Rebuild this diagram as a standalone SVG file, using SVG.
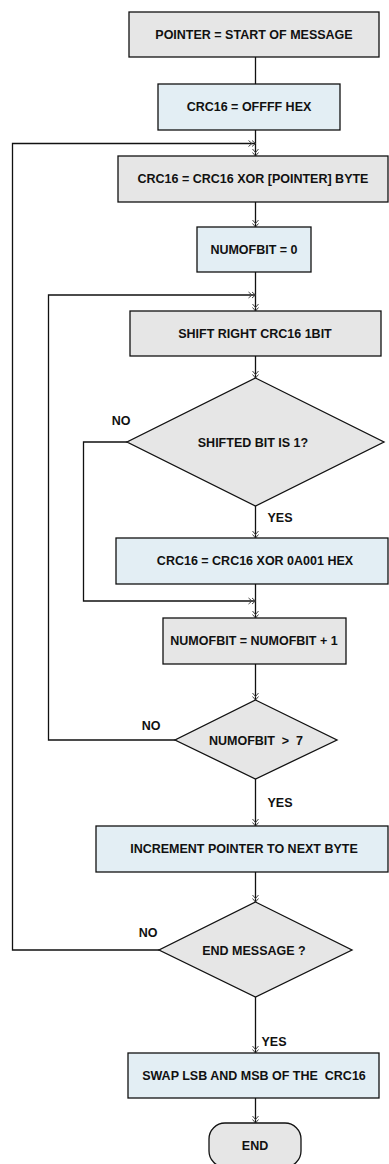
<svg xmlns="http://www.w3.org/2000/svg" width="389" height="1164" viewBox="0 0 389 1164">
<defs>
<marker id="arr" markerUnits="userSpaceOnUse" markerWidth="12" markerHeight="10" viewBox="-9 -5 12 10" refX="0" refY="0" orient="auto">
<path d="M-3.5,-3 L0,0 L-3.5,3 M-7,-3 L-3.5,0 L-7,3" fill="none" stroke="#444" stroke-width="1"/>
</marker>
</defs>
<style>
.g{fill:#e6e6e6;stroke:#111;stroke-width:1.3}
.b{fill:#e3eef4;stroke:#111;stroke-width:1.3}
.t{font-family:"Liberation Sans",Arial,sans-serif;font-weight:bold;font-size:12.5px;fill:#111;text-anchor:middle;dominant-baseline:central;white-space:pre}
.c{fill:none;stroke:#111;stroke-width:1.3}
</style>
<rect width="389" height="1164" fill="#fff"/>
<g id="connectors">
<path class="c" d="M255.5,57 V84"/>
<path class="c" d="M255.5,130 V156" marker-end="url(#arr)"/>
<path class="c" d="M255.5,202 V227" marker-end="url(#arr)"/>
<path class="c" d="M255.5,272 V311" marker-end="url(#arr)"/>
<path class="c" d="M255.5,356 V378" marker-end="url(#arr)"/>
<path class="c" d="M255.5,506 V538" marker-end="url(#arr)"/>
<path class="c" d="M255.5,584 V618" marker-end="url(#arr)"/>
<path class="c" d="M255.5,664 V700" marker-end="url(#arr)"/>
<path class="c" d="M255.5,779 V826" marker-end="url(#arr)"/>
<path class="c" d="M255.5,872 V902" marker-end="url(#arr)"/>
<path class="c" d="M255.5,997 V1053" marker-end="url(#arr)"/>
<path class="c" d="M255.5,1098 V1123" marker-end="url(#arr)"/>
<path class="c" d="M127,442 H83.5 V601 H255.5" marker-end="url(#arr)"/>
<path class="c" d="M175,740 H48.5 V295 H255.5" marker-end="url(#arr)"/>
<path class="c" d="M159,950 H12.5 V143.5 H255.5" marker-end="url(#arr)"/>
<text class="t" x="121" y="421">NO</text>
<text class="t" x="280" y="518">YES</text>
<text class="t" x="151" y="726">NO</text>
<text class="t" x="280" y="803">YES</text>
<text class="t" x="148" y="933">NO</text>
<text class="t" x="274" y="1042">YES</text>
</g>
<g id="n1"><rect class="g" x="129" y="12" width="250" height="45"/><text class="t" x="254" y="34.5">POINTER = START OF MESSAGE</text></g>
<g id="n2"><rect class="b" x="158" y="84" width="182" height="46"/><text class="t" x="249" y="107">CRC16 = OFFFF HEX</text></g>
<g id="n3"><rect class="g" x="118" y="156" width="270" height="46"/><text class="t" x="253" y="179">CRC16 = CRC16 XOR [POINTER] BYTE</text></g>
<g id="n4"><rect class="b" x="197" y="227" width="114" height="45"/><text class="t" x="254" y="250">NUMOFBIT = 0</text></g>
<g id="n5"><rect class="g" x="130" y="311" width="251" height="45"/><text class="t" x="255" y="334">SHIFT RIGHT CRC16 1BIT</text></g>
<g id="n6"><polygon class="g" points="255.5,378 384,442 255.5,506 127,442"/><text class="t" x="253" y="443">SHIFTED BIT IS 1?</text></g>
<g id="n7"><rect class="b" x="116" y="538" width="272" height="46"/><text class="t" x="255" y="561">CRC16 = CRC16 XOR 0A001 HEX</text></g>
<g id="n8"><rect class="g" x="163" y="618" width="183" height="46"/><text class="t" x="254" y="641">NUMOFBIT = NUMOFBIT + 1</text></g>
<g id="n9"><polygon class="g" points="255.5,700 337,740 255.5,779 175,740"/><text class="t" x="256" y="741">NUMOFBIT  &gt;  7</text></g>
<g id="n10"><rect class="b" x="96" y="826" width="292" height="46"/><text class="t" x="244" y="849">INCREMENT POINTER TO NEXT BYTE</text></g>
<g id="n11"><polygon class="g" points="255.5,902 352,950 255.5,997 159,950"/><text class="t" x="254" y="951">END MESSAGE ?</text></g>
<g id="n12"><rect class="b" x="128" y="1053" width="251" height="45"/><text class="t" x="254" y="1076">SWAP LSB AND MSB OF THE  CRC16</text></g>
<g id="n13"><rect class="g" x="209" y="1123" width="92" height="44" rx="16"/><text class="t" x="255" y="1146">END</text></g>
</svg>
